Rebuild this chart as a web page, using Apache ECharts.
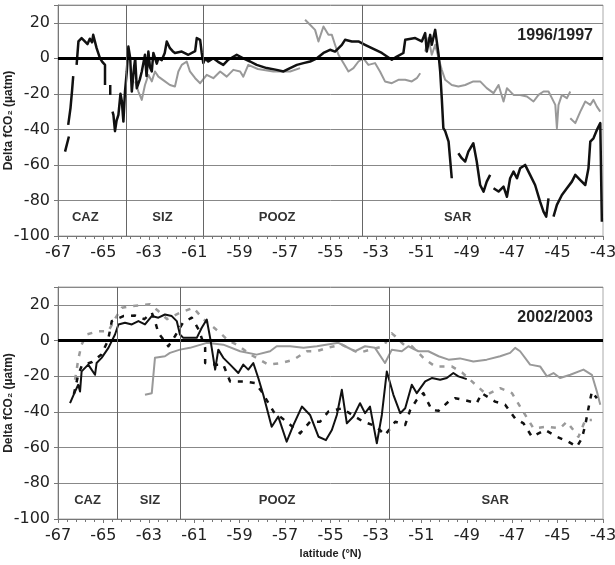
<!DOCTYPE html>
<html>
<head>
<meta charset="utf-8">
<script src="https://cdn.jsdelivr.net/npm/echarts@6/dist/echarts.min.js"></script>
<style>html,body{margin:0;padding:0;background:#fff}#c{width:615px;height:565px}</style>
</head>
<body>
<div id="c"></div>
<script>
// ---------- DATA ----------
var xTicks = [-67,-65,-63,-61,-59,-57,-55,-53,-51,-49,-47,-45,-43];
var yTicks = [-100,-80,-60,-40,-20,0,20];
var panelYears = ['1996/1997','2002/2003'];
var zoneNames = ['CAZ','SIZ','POOZ','SAR'];
var topZoneBounds = [-64, -60.6, -53.6];
var botZoneBounds = [-64.4, -61.6, -52.4];
var topZoneLabelX = [-65.8, -62.4, -57.35, -49.4];
var botZoneLabelX = [-65.7, -62.95, -57.35, -47.75];
var zoneLabelY = -89.5;

// 1996/1997 black
var topBlack = [[-66.69,-52.5],[-66.52,-44],null,[-66.55,-37.5],[-66.45,-28],[-66.38,-18],[-66.33,-10],null,[-66.18,-3.7],[-66.1,9.5],[-65.96,11.4],[-65.85,10],[-65.7,8],[-65.6,11],[-65.5,9],[-65.45,13.2],[-65.3,5.7],[-65.15,0],[-65.05,-2],[-64.93,-3.7],[-64.93,-15],null,[-64.7,-15],[-64.7,-20.6],null,[-64.6,-30],[-64.56,-31.8],[-64.49,-41],[-64.42,-35],[-64.34,-31.8],[-64.25,-20],[-64.19,-24],[-64.12,-35.6],[-64.05,-18.7],[-63.97,-7.4],[-63.9,6.6],[-63.82,0],[-63.75,-18.7],[-63.65,-5],[-63.6,0],[-63.53,-16.8],[-63.4,-12],[-63.31,-7.4],[-63.17,2],[-63.1,-10],[-63.02,3.8],[-62.95,-5],[-62.87,-7.4],[-62.8,3],[-62.73,3.8],[-62.65,-3],[-62.58,0],[-62.43,-1],[-62.3,3],[-62.21,9.5],[-62.07,5.7],[-61.95,4],[-61.85,3],[-61.55,3.8],[-61.26,2],[-61.19,1],[-60.96,4],[-60.89,11.4],[-60.74,10.4],[-60.67,3],[-60.6,-2.7],[-60.52,0],[-60.38,-1.8],[-60.16,0],[-59.95,-2],[-59.72,-3.7],[-59.5,-0.8],[-59.13,2],[-58.84,0],[-58.54,-1.8],[-58.25,-3.7],[-57.81,-5.5],[-57.37,-6.5],[-57.07,-7.4],[-56.78,-5.5],[-56.48,-3.7],[-56.19,-2.7],[-55.9,-1.8],[-55.6,0],[-55.31,3],[-55.02,4.8],[-54.8,3.8],[-54.5,7.6],[-54.36,10.4],[-54.06,9.5],[-53.77,9.5],[-53.48,7.6],[-53.18,5.7],[-52.74,3],[-52.3,-0.8],[-52.08,1],[-51.79,3],[-51.71,10.4],[-51.27,11.4],[-50.98,9.5],[-50.83,14.2],[-50.76,3.8],[-50.61,13.2],[-50.54,7.6],[-50.39,16],[-50.32,17],[-50.24,2],[-50.17,-7.4],[-50.1,-22.4],[-50.03,-39.3],[-49.95,-41],[-49.8,-46.9],[-49.66,-67.5],null,[-49.37,-53.4],[-49.22,-56.2],[-49.07,-58.1],[-48.93,-52.5],[-48.71,-47.8],[-48.56,-58.1],[-48.41,-71.3],[-48.26,-75],[-48.12,-69.4],[-47.97,-65.6],null,[-47.82,-73.1],[-47.6,-75],[-47.38,-72.2],[-47.23,-77.9],[-47.09,-67.5],[-46.94,-63.8],[-46.79,-67.5],[-46.65,-61.9],[-46.43,-60],[-46.21,-65.6],[-45.99,-71.3],[-45.77,-80.7],[-45.62,-86.3],[-45.5,-89.1],[-45.4,-78.8],null,[-45.18,-89.1],[-45.03,-82.5],[-44.81,-76.9],[-44.59,-73.1],[-44.37,-69.4],[-44.22,-65.6],[-44.0,-68.5],[-43.78,-71.3],[-43.64,-61.9],[-43.56,-46.9],[-43.42,-45],[-43.27,-40.3],[-43.12,-36.5],[-43.05,-92]];

// 1996/1997 grey
var topGray = [[-63.6,-13],[-63.46,-18.7],[-63.31,-23.4],[-63.17,-15],[-63.02,-9.3],[-62.87,-13],[-62.73,-7.4],[-62.58,-10.3],[-62.29,-13],[-62.07,-15],[-61.85,-15.9],[-61.7,-7.4],[-61.55,-3.7],[-61.33,-1.8],[-61.19,-7.4],[-60.96,-11.2],[-60.74,-14],[-60.45,-9.3],[-60.16,-11.2],[-59.86,-7.4],[-59.57,-10.3],[-59.28,-6.5],[-58.98,-7.4],[-58.84,-10.3],[-58.62,-3.7],[-58.2,-6],[-57.52,-7.4],[-56.78,-7.4],[-56.34,-5.5],null,[-56.12,21.7],[-55.9,18.9],[-55.68,16],[-55.53,9.5],[-55.31,17.9],[-55.09,13.2],[-54.94,13.2],[-54.8,7.6],[-54.65,2],[-54.43,-2.7],[-54.21,-7.4],[-53.99,-5.5],[-53.77,-1.8],[-53.55,0],[-53.33,-3.7],[-53.04,-2.7],[-52.82,-7.4],[-52.6,-13],[-52.3,-14],[-52.01,-12.1],[-51.71,-12.1],[-51.42,-13],[-51.2,-11.2],[-51.05,-8.4],null,[-50.83,3.8],[-50.69,11.4],[-50.54,2],[-50.39,7.6],[-50.24,0],[-50.1,-6.5],[-49.95,-12.1],[-49.66,-15],[-49.37,-15.9],[-49.07,-15],[-48.99,-14],[-48.71,-13],[-48.41,-13],[-48.12,-16.8],[-47.82,-19.6],[-47.6,-15],[-47.38,-24.3],[-47.23,-16.8],[-46.94,-20.6],[-46.65,-20.6],[-46.35,-21.5],[-46.06,-24.3],[-45.84,-20.6],[-45.62,-18.7],[-45.4,-18.7],[-45.25,-22.4],[-45.1,-26.2],[-45.03,-39.3],[-44.96,-26.2],[-44.81,-20.6],[-44.59,-22.4],[-44.44,-18.7],null,[-44.44,-33.7],[-44.22,-36.5],[-44.0,-30],[-43.78,-24.3],[-43.56,-26.2],[-43.42,-23.4],[-43.27,-27.2],[-43.12,-30]];

// 2002/2003 black solid
var botBlack = [[-66.47,-35.1],[-66.25,-28.6],[-66.11,-24.8],[-66.03,-28.6],[-65.96,-17.3],[-65.67,-13.5],[-65.37,-19.2],[-65.3,-12.6],[-65.08,-9.7],[-64.78,-4.1],[-64.49,3.4],[-64.34,9],[-64.05,10],[-63.75,9],[-63.46,10.9],[-63.17,9],[-62.87,13.7],[-62.58,12.8],[-62.29,14.6],[-61.99,13.7],[-61.77,10.9],[-61.63,3.4],[-61.48,1.5],[-61.19,1.5],[-60.89,1.5],[-60.67,7.2],[-60.45,11.8],[-60.3,1.5],[-60.08,-16.3],[-59.94,-5.1],[-59.72,-9.7],[-59.42,-13.5],[-59.06,-18.2],[-58.84,-13.5],[-58.62,-16.3],[-58.4,-12.6],[-58.18,-21],[-57.96,-30.4],[-57.59,-48.3],[-57.3,-42.6],[-56.93,-56.7],[-56.63,-47.3],[-56.26,-37],[-55.9,-41.7],[-55.53,-53.9],[-55.2,-55.8],[-54.94,-50.1],[-54.72,-41.7],[-54.5,-27.6],[-54.28,-46.4],[-53.99,-42.6],[-53.7,-35.1],[-53.48,-40.7],[-53.26,-37],[-52.96,-57.6],[-52.74,-41.7],[-52.52,-17.3],[-52.23,-30.4],[-51.93,-40.7],[-51.71,-37.9],[-51.42,-24.8],[-51.2,-29.5],[-50.83,-22.9],[-50.54,-21],[-50.17,-22],[-49.88,-21],[-49.59,-18.2],[-49.37,-20.1],[-49.0,-21.6]];

// 2002/2003 black dashed
var botBlackDash = [[-66.3,-30],[-66.11,-19.2],[-65.95,-14],[-65.5,-12],[-65.1,-8],[-64.8,0],[-64.63,10.9],[-64.12,13.7],[-63.6,14],[-63.2,12],[-62.87,15.6],[-62.73,10.9],[-62.58,4.3],[-62.14,-3.2],[-61.85,2.4],[-61.5,10],[-61.11,12.8],[-60.8,6],[-60.52,-4.1],[-60.52,-12.6],[-60.08,-13.5],[-59.72,-13.5],[-59.42,-22.9],[-58.84,-22.9],[-58.32,-23.8],[-58.03,-28.6],[-57.5,-40],[-56.93,-45.5],[-56.34,-52],[-55.9,-45.5],[-55.46,-45.5],[-55.09,-39.8],[-54.5,-38],[-54.0,-42],[-53.55,-45.5],[-53.0,-48],[-52.6,-53],[-52.37,-49.2],[-52.15,-45.5],[-51.71,-47.3],[-51.49,-38.9],[-51.2,-33.2],[-50.91,-29.5],[-50.54,-38.9],[-50.24,-39.4],[-49.8,-34.2],[-49.51,-32.3],[-49.15,-33.2],[-48.56,-35.1],[-48.34,-29.5],[-47.75,-34.2],[-47.31,-36],[-46.87,-43.6],[-46.5,-46.4],[-46.13,-53.9],[-45.55,-50.1],[-45.03,-53.9],[-44.52,-56.7],[-44.15,-59.5],[-43.93,-54.8],[-43.78,-47.3],[-43.64,-37.9],[-43.49,-28.6],[-43.27,-32.3]];

// 2002/2003 grey dashed
var botGrayDash = [[-66.25,-22],[-66.1,-10],[-65.96,-2.3],[-65.74,3.4],[-65.23,5.2],[-64.78,5.2],[-64.5,12],[-64.19,18.4],[-63.75,19.3],[-62.95,20.3],[-62.58,16.5],[-62.2,12],[-61.63,15.6],[-61.04,18.4],[-60.6,12],[-59.94,5.2],[-59.5,0],[-59.13,-2.3],[-58.5,-8],[-57.74,-13.5],[-57.15,-12.6],[-56.63,-10.7],[-56.04,-6],[-55.6,-6],[-55.16,-4.1],[-54.5,-2.3],[-53.77,-6.9],[-53.2,-5],[-52.67,-3.2],[-52.3,4],[-52.15,2.4],[-51.8,-2],[-51.42,-3.2],[-50.83,-10.7],[-50.39,-14.5],[-49.66,-14.5],[-49.2,-18],[-48.85,-22],[-48.12,-30.4],[-47.53,-26.7],[-47.01,-29.5],[-46.65,-37],[-46.06,-49.2],[-45.47,-48.3],[-44.89,-49.2],[-44.59,-45.5],[-44.08,-53.9],[-43.78,-44.6],[-43.49,-44.5]];

// 2002/2003 grey solid
var botGray = [[-63.17,-30.4],[-62.87,-29.5],[-62.73,-9.7],[-62.29,-8.8],[-62.07,-6.9],[-61.63,-5.1],[-61.19,-4.1],[-60.45,-1.3],[-59.72,-2.3],[-58.98,-6],[-58.25,-7.9],[-57.66,-6],[-57.37,-3.2],[-56.78,-3.2],[-56.19,-4.1],[-55.6,-3.2],[-55.2,-2.3],[-54.65,-1.3],[-54.36,-3.2],[-53.92,-6],[-53.48,-3.2],[-53.04,-4.1],[-52.6,-12.6],[-52.3,-5.1],[-51.86,-6],[-51.57,-3.2],[-51.13,-6],[-50.69,-6],[-50.24,-8.8],[-49.8,-10.7],[-49.3,-10],[-48.71,-11.7],[-48.12,-10.7],[-47.53,-8.8],[-47.09,-6.9],[-46.87,-4.1],[-46.65,-6],[-46.21,-13.5],[-45.77,-14.5],[-45.47,-20.1],[-45.18,-18.2],[-44.89,-21],[-44.44,-19.2],[-43.86,-16.3],[-43.49,-19.2],[-43.27,-28.6],[-43.12,-36]];

// ---------- CHART ----------
var FONT = 'Liberation Sans, Arial, sans-serif';
var TICKFONT = 'DejaVu Sans, Liberation Sans, sans-serif';
function prep(arr){ return arr.map(function(p){ return p ? p : ['-','-']; }); }

function xAxisFor(gi, withName){
  return {
    type:'value', gridIndex:gi, min:xTicks[0], max:xTicks[xTicks.length-1], interval:2,
    name: withName ? 'latitude (°N)' : '', nameLocation:'middle', nameGap:29, nameMoveOverlap:false,
    nameTextStyle:{fontFamily:FONT, fontSize:11, fontWeight:'bold', color:'#222'},
    axisLine:{show:true, onZero:false, lineStyle:{color:'#777', width:1}},
    axisTick:{show:true, length:4, lineStyle:{color:'#777'}},
    minorTick:{show:true, splitNumber:5, length:3, lineStyle:{color:'#777'}},
    axisLabel:{fontFamily:TICKFONT, fontSize:16, color:'#222', margin:9},
    splitLine:{show:false}
  };
}
function yAxisFor(gi){
  return {
    type:'value', gridIndex:gi, min:-100, max:30, interval:20,
    name:'Delta fCO₂ (µatm)', nameLocation:'middle', nameGap:43, nameRotate:90, nameMoveOverlap:false,
    nameTextStyle:{fontFamily:FONT, fontSize:12, fontWeight:'bold', color:'#222'},
    axisLine:{show:true, lineStyle:{color:'#777', width:1}},
    axisTick:{show:true, length:4, lineStyle:{color:'#777'}},
    axisLabel:{fontFamily:TICKFONT, fontSize:16, color:'#222', margin:8,
      formatter:function(v){ return yTicks.indexOf(v) >= 0 ? String(v) : ''; }},
    splitLine:{show:true, lineStyle:{color:'#888', width:1}}
  };
}
function guides(bounds, labelX){
  var md = [{yAxis:0, lineStyle:{color:'#000', width:3, type:'solid'}}];
  bounds.forEach(function(b){ md.push({xAxis:b, lineStyle:{color:'#666', width:1, type:'solid'}}); });
  var mp = zoneNames.map(function(n,i){ return {name:n, coord:[labelX[i], zoneLabelY]}; });
  return {
    markLine:{silent:true, symbol:['none','none'], label:{show:false}, data:md, animation:false},
    markPoint:{silent:true, symbol:'circle', symbolSize:1, itemStyle:{color:'rgba(0,0,0,0)'},
      label:{show:true, position:'inside', formatter:'{b}', fontFamily:FONT, fontSize:13, fontWeight:'bold', color:'#333'},
      data:mp, animation:false}
  };
}
function line(gi, data, color, width, dash, extra){
  var s = {
    type:'line', xAxisIndex:gi, yAxisIndex:gi, data:prep(data), showSymbol:false, symbol:'none',
    connectNulls:false, animation:false,
    lineStyle:{color:color, width:width, type: dash ? dash : 'solid', cap:'butt', join:'round'}
  };
  if (extra) { for (var k in extra) s[k] = extra[k]; }
  return s;
}

var g0 = guides(topZoneBounds, topZoneLabelX);
var g1 = guides(botZoneBounds, botZoneLabelX);

var option = {
  backgroundColor:'#fff',
  animation:false,
  title:[
    {text:panelYears[0], right:17, top:23, textStyle:{fontFamily:FONT, fontSize:16, fontWeight:'bold', color:'#222'}},
    {text:panelYears[1], right:17, top:305, textStyle:{fontFamily:FONT, fontSize:16, fontWeight:'bold', color:'#222'}}
  ],
  grid:[
    {left:58, top:5, width:545, height:231, show:true, borderColor:'#aaa', borderWidth:1, backgroundColor:'#fff', containLabel:false, outerBoundsMode:'none'},
    {left:58, top:287, width:545, height:232, show:true, borderColor:'#aaa', borderWidth:1, backgroundColor:'#fff', containLabel:false, outerBoundsMode:'none'}
  ],
  xAxis:[xAxisFor(0,false), xAxisFor(1,true)],
  yAxis:[yAxisFor(0), yAxisFor(1)],
  series:[
    line(0, topGray, '#999', 2, null, {markLine:g0.markLine, markPoint:g0.markPoint}),
    line(0, topBlack, '#111', 2.5, null),
    line(1, botGray, '#999', 2, null, {markLine:g1.markLine, markPoint:g1.markPoint}),
    line(1, botGrayDash, '#9a9a9a', 2.5, [5,7]),
    line(1, botBlackDash, '#111', 2.5, [5,7]),
    line(1, botBlack, '#111', 2, null)
  ]
};
var chart = echarts.init(document.getElementById('c'), null, {renderer:'canvas'});
chart.setOption(option);
</script>
</body>
</html>
